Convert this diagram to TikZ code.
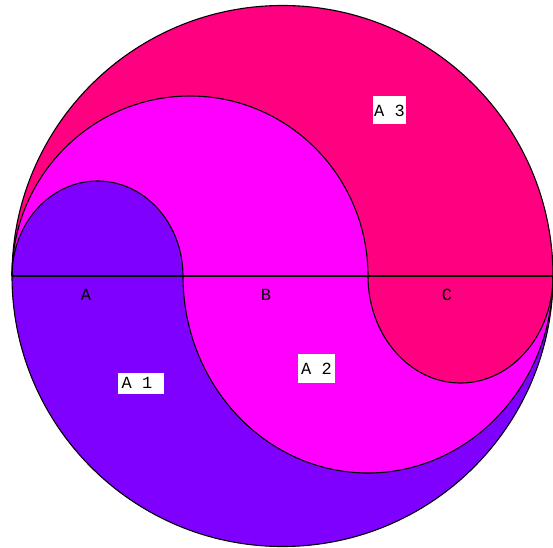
\documentclass[tikz,border=0pt]{standalone}
\usepackage{fontspec}
\setmonofont{Liberation Mono}
\definecolor{cA}{RGB}{128,0,255}
\definecolor{cB}{RGB}{255,0,255}
\definecolor{cC}{RGB}{255,0,128}
\begin{document}
\begin{tikzpicture}[x=1pt,y=1pt,
  edge/.style={black,line width=1.1pt},
  seglabel/.style={font=\ttfamily\fontsize{17}{17}\selectfont,inner sep=0pt},
  arealabel/.style={fill=white,font=\ttfamily\fontsize{17}{17}\selectfont,inner sep=0pt,align=center}]
\useasboundingbox (0,0) rectangle (553,547);
\coordinate (O) at (282.5,271);
\coordinate (L) at (12,271);
\coordinate (P) at (183,271);
\coordinate (Q) at (368,271);
\coordinate (R) at (553,271);
% regions
\fill[cC] (O) circle (270.5);
\fill[cB] (L) arc[start angle=180,end angle=0,x radius=178,y radius=180]
  arc[start angle=180,end angle=360,x radius=92.5,y radius=107]
  arc[start angle=0,end angle=-180,radius=270.5] -- cycle;
\fill[cA] (L) arc[start angle=180,end angle=0,x radius=85.5,y radius=95]
  arc[start angle=180,end angle=360,x radius=185,y radius=197]
  arc[start angle=0,end angle=-180,radius=270.5] -- cycle;
% outlines
\draw[edge] (L) arc[start angle=180,end angle=0,x radius=178,y radius=180]
  arc[start angle=180,end angle=360,x radius=92.5,y radius=107];
\draw[edge] (L) arc[start angle=180,end angle=0,x radius=85.5,y radius=95]
  arc[start angle=180,end angle=360,x radius=185,y radius=197];
\draw[edge] (L) -- (R);
\draw[edge] (O) circle (270.5);
% labels
\node[seglabel] (la) at (86,252) {A};
\node[seglabel] (lb) at (266,252) {B};
\node[seglabel] (lc) at (447,252) {C};
\node[arealabel,minimum width=46pt,minimum height=21pt] (a1) at (141,164) {\hspace*{-8pt}A 1};
\node[arealabel,minimum width=37pt,minimum height=29pt] (a2) at (316.5,178.5) {A 2};
\node[arealabel,minimum width=33pt,minimum height=28pt] (a3) at (389.5,436.5) {A 3};
\end{tikzpicture}
\end{document}
